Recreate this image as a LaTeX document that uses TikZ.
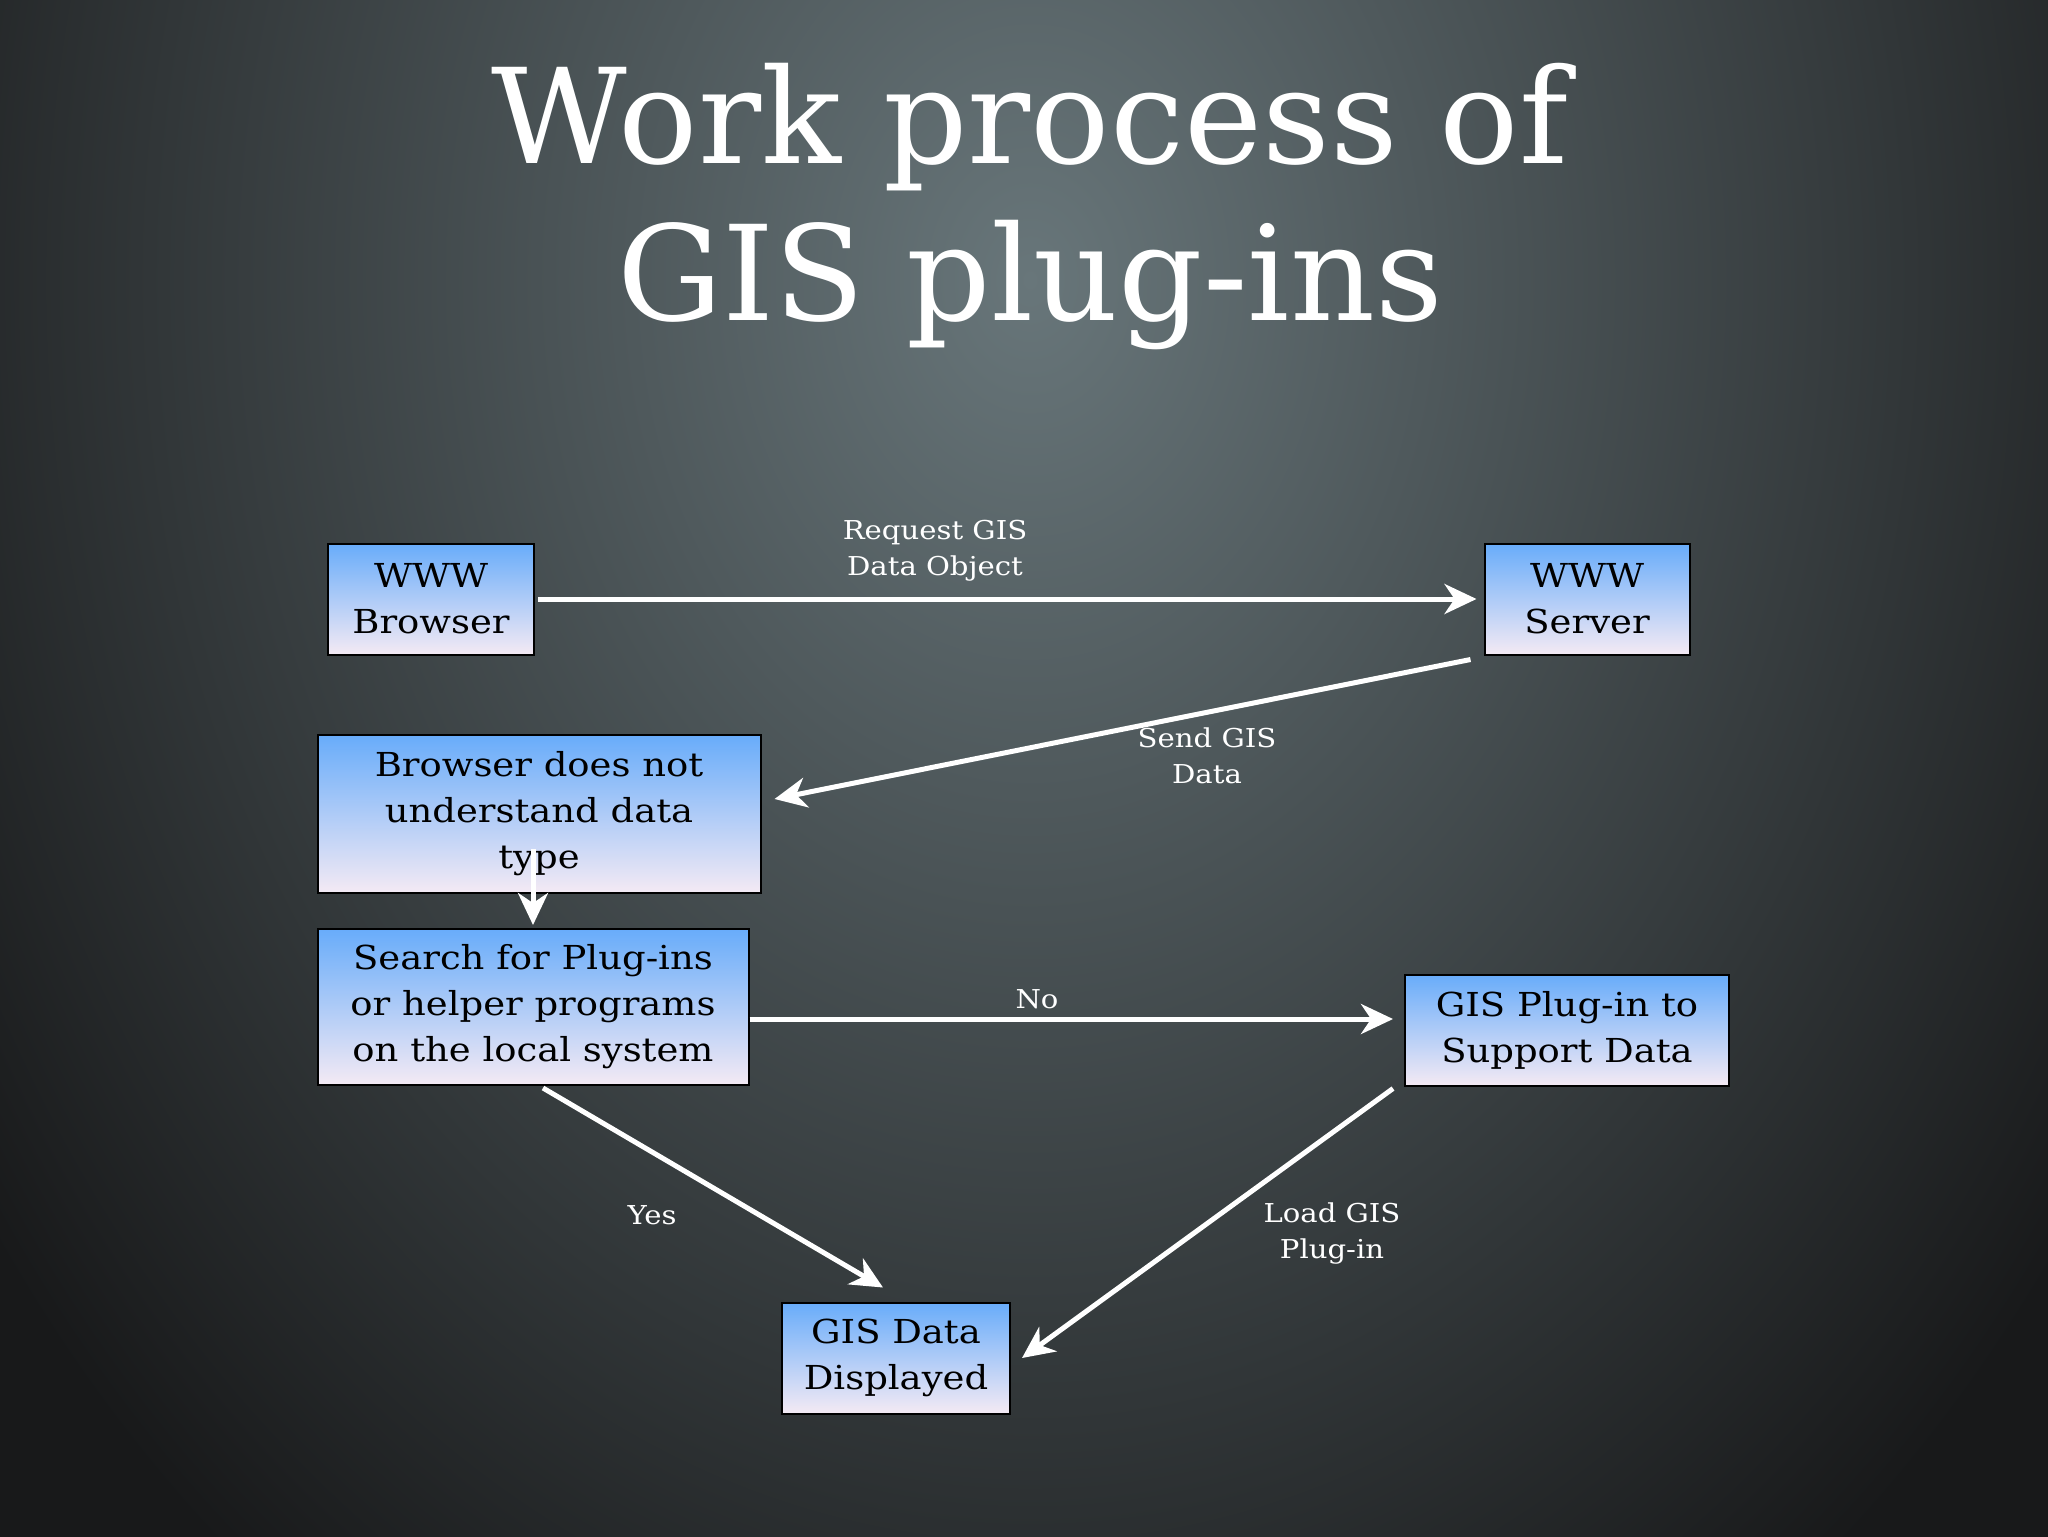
\documentclass[tikz,border=0pt]{standalone}
\usepackage{fontspec}
\setmainfont{DejaVu Serif}
\newfontfamily\widefont{DejaVu Serif}[FakeStretch=1.12]
\usepackage{tikz}
\usetikzlibrary{arrows.meta,positioning}

\definecolor{bgdark}{RGB}{24,25,26}
\definecolor{bglight}{RGB}{104,118,122}
\definecolor{boxtop}{RGB}{104,172,250}
\definecolor{boxbot}{RGB}{244,234,244}

\tikzset{
  stepbox/.style={draw=black, line width=1pt, top color=boxtop, bottom color=boxbot,
    inner sep=0pt, align=center, text=black, font=\widefont\fontsize{16.5}{23}\selectfont},
  flow/.style={draw=white, line width=2.5pt, -{Stealth[length=16pt,width=15pt,inset=5pt]}},
  flowlabel/.style={text=white, align=center, font=\widefont\fontsize{13}{18}\selectfont},
  titletext/.style={text=white, anchor=base, font=\fontsize{66}{78}\selectfont},
}

\begin{document}
\begin{tikzpicture}[x=0.5pt,y=0.5pt,yscale=-1,xscale=1]
        \useasboundingbox (0,0) rectangle (2048,1536);

        %Background
        \fill[bgdark] (-6,-6) rectangle (2054,1542);
        \begin{scope}
        \clip (-6,-6) rectangle (2054,1542);
        \shade[inner color=bglight, outer color=bgdark] (1030,280) ellipse (640pt and 820pt);
        \end{scope}

        % Title
        \node[titletext] (title1) at (1030,163) {Work process of};
        \node[titletext] (title2) at (1030,320) {GIS plug-ins};

        % Boxes
        \node[stepbox, minimum width=103pt, minimum height=55.5pt] (browser) at (431,599) {WWW\\Browser};
        \node[stepbox, minimum width=102.5pt, minimum height=55.5pt] (server) at (1587,599) {WWW\\Server};
        \node[stepbox, minimum width=221.5pt, minimum height=79pt] (understand) at (539,814) {Browser does not\\understand data\\type};
        \node[stepbox, minimum width=215.5pt, minimum height=78pt] (search) at (533,1007) {Search for Plug-ins\\or helper programs\\on the local system};
        \node[stepbox, minimum width=162pt, minimum height=55.5pt] (plugin) at (1567,1030) {GIS Plug-in to\\Support Data};
        \node[stepbox, minimum width=114pt, minimum height=55.5pt] (shown) at (896,1358) {GIS Data\\Displayed};

        %Arrows (yshift runs downwards here, yscale=-1)
        \draw[flow, shorten <=1.5pt, shorten >=3.5pt] (browser) -- (server);
        \draw[flow] ([xshift=-6.5pt,yshift=2pt]server.south west) -- ([xshift=6.5pt,yshift=-7.5pt]understand.east);
        \draw[flow] ([yshift=-22.5pt]understand.south -| search.north) -- ([yshift=-1.5pt]search.north);
        \draw[flow, shorten >=5.5pt] ([yshift=6pt]search.east) -- ([yshift=6pt]search.east -| plugin.west);
        \draw[flow] ([xshift=5pt,yshift=1pt]search.south) -- ([xshift=-6.5pt,yshift=-7pt]shown.north);
        \draw[flow] ([xshift=-5.5pt,yshift=1pt]plugin.south west) -- ([xshift=5.5pt]shown.east);

        % Text Node
        \node[flowlabel] (request) at (935,551) {Request GIS\\Data Object};
        \node[flowlabel] (send) at (1207,756) {Send GIS\\Data};
        \node[flowlabel] (no) at (1037,999) {No};
        \node[flowlabel] (yes) at (652,1215) {Yes};
        \node[flowlabel] (load) at (1332,1233) {Load GIS\\Plug-in};
\end{tikzpicture}
\end{document}
